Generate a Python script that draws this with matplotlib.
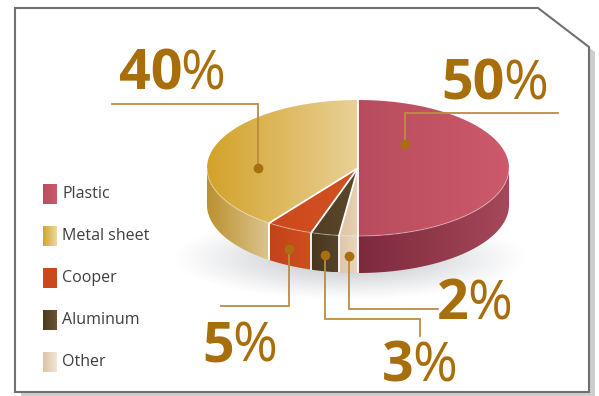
import numpy as np
import matplotlib.pyplot as plt
from matplotlib.patches import Polygon
from matplotlib.colors import to_rgb

plt.rcParams['font.family'] = ['Open Sans', 'DejaVu Sans']

# --- data ---
materials = ["Plastic", "Metal sheet", "Cooper", "Aluminum", "Other"]
shares = [50, 40, 5, 3, 2]
pct_labels = ["50", "40", "5", "3", "2"]
# order of the slices clockwise from 12 o'clock
pie_order = ["Plastic", "Other", "Aluminum", "Cooper", "Metal sheet"]

# --- styles ---
top_cols = {
    "Plastic": ("#b84c5e", "#cc5a6b"),
    "Metal sheet": ("#d3a229", "#e8d097"),
    "Cooper": ("#cc481d", "#d25220"),
    "Aluminum": ("#503d24", "#5b482c"),
    "Other": ("#dfc3a1", "#e7d0b4"),
}
side_cols = {
    "Plastic": ("#7c2a3c", "#a5485a"),
    "Metal sheet": ("#bb912f", "#dcc590"),
    "Cooper": ("#c2431a", "#d04e20"),
    "Aluminum": ("#483620", "#56432a"),
    "Other": ("#dfc5a7", "#e9d6bf"),
}
legend_cols = {
    "Plastic": ("#b84c5e", "#cc5a6b"),
    "Metal sheet": ("#d3a229", "#ecd9a8"),
    "Cooper": ("#cc481d", "#cc481d"),
    "Aluminum": ("#4c3920", "#6a5432"),
    "Other": ("#dcc3a3", "#f2e6d8"),
}
txt_col = "#a86e0b"
line_col = "#bd8c3e"

# pie geometry in pixels
cx, cy, rx, ry, depth = 358, 168, 151, 68, 37

# where each label goes: dot placement, leader and text
layout = {
    "Plastic": dict(face="top", shift=48, r=0.47, ly=113, lx=558, tx=505, ty=100),
    "Metal sheet": dict(face="top", shift=18, r=0.66, ly=104, lx=112, tx=182, ty=90),
    "Cooper": dict(face="side", ly=306, lx=221, tx=234, ty=361),
    "Aluminum": dict(face="side", ly=319, lx=420, hook=336, tx=414, ty=381),
    "Other": dict(face="side", ly=309, lx=438, tx=469, ty=319),
}

W, H = 599, 396
fig = plt.figure(figsize=(W / 100, H / 100), dpi=100)
ax = fig.add_axes([0, 0, 1, 1])
ax.set_xlim(0, W)
ax.set_ylim(H, 0)
ax.axis('off')


def grad_fill(verts, c0, c1, z):
    verts = np.asarray(verts)
    poly = Polygon(verts, closed=True, facecolor='none', edgecolor='none', zorder=z)
    ax.add_patch(poly)
    x0, x1 = verts[:, 0].min(), verts[:, 0].max()
    y0, y1 = verts[:, 1].min(), verts[:, 1].max()
    t = np.linspace(0, 1, 256)[:, None]
    img = (1 - t) * np.array(to_rgb(c0)) + t * np.array(to_rgb(c1))
    im = ax.imshow(img[None, :, :], extent=(x0, x1, y1, y0), aspect='auto',
                   interpolation='bilinear', zorder=z)
    im.set_clip_path(poly)


def ell(t_deg, dy=0.0, r=1.0):
    t = np.radians(t_deg)
    return np.column_stack([cx + r * rx * np.cos(t), cy - r * ry * np.sin(t) + dy])


# --- frame with drop shadow ---
frame = [(15, 8), (538, 8), (589, 47), (589, 392), (15, 392)]
shadow = [(x + 6, y + 5) for x, y in frame]
ax.add_patch(Polygon(shadow, closed=True, facecolor='#cdcdcd', edgecolor='none', zorder=0))
ax.add_patch(Polygon(frame, closed=True, facecolor='white', edgecolor='#707070', lw=1.5, zorder=1))

# --- soft shadow under the pie ---
gx = np.linspace(140, 560, 420)
gy = np.linspace(190, 320, 160)
X, Y = np.meshgrid(gx, gy)
d = np.sqrt(((X - 350) / 178) ** 2 + ((Y - 258) / 42) ** 2)
alpha = 0.6 * np.clip(1 - d, 0, 1) ** 1.1
sh = np.zeros(X.shape + (4,))
sh[..., :3] = to_rgb('#8a8f99')
sh[..., 3] = alpha
ax.imshow(sh, extent=(gx[0], gx[-1], gy[-1], gy[0]), aspect='auto', zorder=2,
          interpolation='bilinear')

# --- slices ---
angles = {}
start = 90.0
for name in pie_order:
    v = shares[materials.index(name)]
    end = start - v * 3.6
    angles[name] = (start, end)
    start = end

for name in pie_order:
    a0, a1 = angles[name]
    # side wall, only the front half is visible
    s0, s1 = min(a0, 0), max(a1, -180)
    if s0 > s1:
        tt = np.linspace(s1, s0, 80)
        verts = np.vstack([ell(tt), ell(tt[::-1], dy=depth)])
        grad_fill(verts, *side_cols[name], z=3)
    # top face
    tt = np.linspace(a1, a0, 200)
    verts = np.vstack([[cx, cy], ell(tt)])
    grad_fill(verts, *top_cols[name], z=4)

# light rim between top and side
rim = ell(np.linspace(-180, 0, 200))
ax.plot(rim[:, 0], rim[:, 1], color='white', alpha=0.35, lw=0.8, zorder=4.5)

# white separators
for name in pie_order:
    a0, _ = angles[name]
    p = ell([a0])[0]
    ax.plot([cx, p[0]], [cy, p[1]], color='white', lw=1.3, zorder=5,
            solid_capstyle='butt')
    if -180 <= a0 <= 0:
        ax.plot([p[0], p[0]], [p[1], p[1] + depth], color='white', lw=1.3, zorder=5,
                solid_capstyle='butt')

# --- dots, leaders and percentages ---
for name, pct in zip(materials, pct_labels):
    a0, a1 = angles[name]
    mid = (a0 + a1) / 2
    lay = layout[name]
    if lay["face"] == "top":
        px, py = ell([mid + lay["shift"]], r=lay["r"])[0]
    else:
        px, py = ell([mid])[0]
        py += 0.55 * depth
    xs = [px, px, lay["lx"]]
    ys = [py, lay["ly"], lay["ly"]]
    if "hook" in lay:
        xs.append(lay["lx"])
        ys.append(lay["hook"])
    ax.plot(xs, ys, color=line_col, lw=1.3, zorder=6, solid_joinstyle='miter')
    ax.plot(px, py, 'o', ms=7, color='#a86f10', mec='none', zorder=7)
    ax.text(lay["tx"], lay["ty"], pct, color=txt_col, fontsize=40, fontweight='bold',
            ha='right', va='baseline', zorder=8)
    ax.text(lay["tx"] - 2, lay["ty"], "%", color=txt_col, fontsize=39,
            ha='left', va='baseline', zorder=8)

# --- legend ---
leg_y = [194, 236, 278, 320, 362]
for name, y in zip(materials, leg_y):
    verts = [(43, y - 10.5), (57, y - 10.5), (57, y + 10.5), (43, y + 10.5)]
    grad_fill(verts, *legend_cols[name], z=4)
    ax.text(62, y, name, fontsize=11.5, color='#3f3f3f', ha='left', va='center', zorder=8)

ax.set_xlim(0, W)
ax.set_ylim(H, 0)
fig.savefig("out.png", dpi=100, facecolor='white')
